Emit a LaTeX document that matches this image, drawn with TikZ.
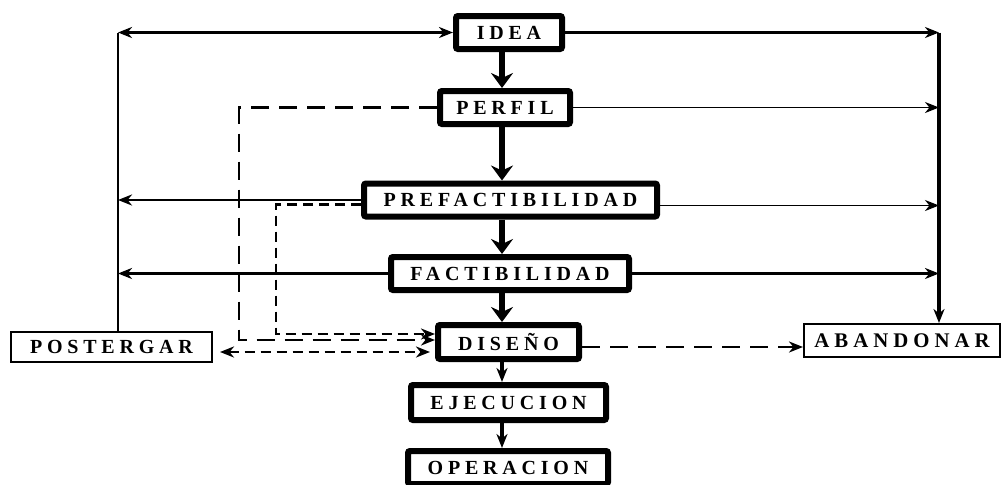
\documentclass[tikz,border=0pt]{standalone}
\usepackage{fontspec}
\setmainfont{Liberation Serif}
\newfontfamily\lblfont[LetterSpace=24]{Liberation Serif}
\usetikzlibrary{arrows.meta}
\begin{document}
\begin{tikzpicture}[x=0.5pt,y=-0.5pt,
  tk/.tip={Stealth[length=7.5pt,width=11pt,inset=2.5pt]},
  tn/.tip={Stealth[length=7pt,width=5.5pt,inset=2.2pt]},
  lbl/.style={font=\lblfont\bfseries\fontsize{10}{12}\selectfont},
  mainbox/.style={lbl,draw,line width=3pt,rounded corners=1pt,inner sep=0pt},
  sidebox/.style={lbl,draw,line width=1pt,inner sep=0pt},
  bigarrow/.style={line width=3pt,-{tk}},
  medarrow/.style={line width=1.6pt,-{tn}},
  dashline/.style={line width=1.4pt,dash pattern=on 5pt off 3pt},
  dashlong/.style={line width=1.4pt,dash pattern=on 9pt off 5pt}]
\useasboundingbox (0,0) rectangle (1002,484);
% nodes
\node[mainbox,minimum width=53pt,minimum height=16.5pt] (idea) at (509,32.5) {IDEA};
\node[mainbox,minimum width=65pt,minimum height=16.5pt] (perfil) at (505,107.5) {PERFIL};
\node[mainbox,minimum width=146.5pt,minimum height=16.5pt] (prefact) at (510.5,200) {PREFACTIBILIDAD};
\node[mainbox,minimum width=119pt,minimum height=16.5pt] (fact) at (510,273.5) {FACTIBILIDAD};
\node[mainbox,minimum width=70.5pt,minimum height=17pt] (diseno) at (508.5,342) {DISEÑO};
\node[mainbox,minimum width=97.5pt,minimum height=17.5pt] (ejec) at (508.5,402.5) {EJECUCION};
\node[mainbox,minimum width=100pt,minimum height=16.5pt] (oper) at (508,467.5) {OPERACION};
\node[sidebox,minimum width=100.5pt,minimum height=15pt] (postergar) at (111.5,347) {POSTERGAR};
\node[sidebox,font=\lblfont\bfseries\fontsize{10.4}{12}\selectfont,minimum width=98pt,minimum height=16.5pt] (abandonar) at (902,340.5) {ABANDONAR};
% main column
\coordinate (col) at (502,0);
\draw[bigarrow] (idea.south -| col) -- (perfil.north -| col);
\draw[bigarrow] (perfil.south -| col) -- (prefact.north -| col);
\draw[bigarrow] (prefact.south -| col) -- (fact.north -| col);
\draw[bigarrow] (fact.south -| col) -- (diseno.north -| col);
\draw[medarrow] (diseno.south -| col) -- (ejec.north -| col);
\draw[medarrow] (ejec.south -| col) -- (oper.north -| col);
% left side
\coordinate (lt) at (118,32.5);
\draw[line width=1pt] (postergar.north -| lt) -- (lt);
\draw[line width=1.5pt,{tn}-{tn}] (lt) -- (idea.west);
\draw[line width=1.3pt,-{tn}] (prefact.west) -- (prefact.west -| lt);
\draw[line width=1.5pt,-{tn}] (fact.west) -- (fact.west -| lt);
% right side
\coordinate (rt) at (939,32.5);
\draw[line width=1.5pt,-{tn}] (idea.east) -- (rt);
\draw[line width=1.6pt,-{tn}] (rt) -- (rt |- abandonar.north);
\draw[line width=0.9pt,-{tn}] (perfil.east) -- (perfil.east -| rt);
\coordinate (pfe) at ([yshift=-2.75pt]prefact.east);
\draw[line width=0.9pt,-{tn}] (pfe) -- (pfe -| rt);
\draw[line width=1.5pt,-{tn}] (fact.east) -- (fact.east -| rt);
% dashed
\coordinate (d1) at (239,340);
\draw[dashlong,-{tn}] (perfil.west) -| (d1) -- (d1 -| diseno.west);
\coordinate (pfw) at ([yshift=-2.25pt]prefact.west);
\coordinate (d2) at (276,334);
\draw[dashline,-{tn}] (pfw) -| (d2) -- (d2 -| diseno.west);
\coordinate (d3) at (0,352);
\draw[dashline,{tn}-{tn},shorten <=3.5pt,shorten >=2.5pt] (d3 -| postergar.east) -- (d3 -| diseno.west);
\coordinate (dae) at ([yshift=-2.5pt]diseno.east);
\draw[dashlong,-{tn}] (dae) -- (dae -| abandonar.west);
\end{tikzpicture}
\end{document}
